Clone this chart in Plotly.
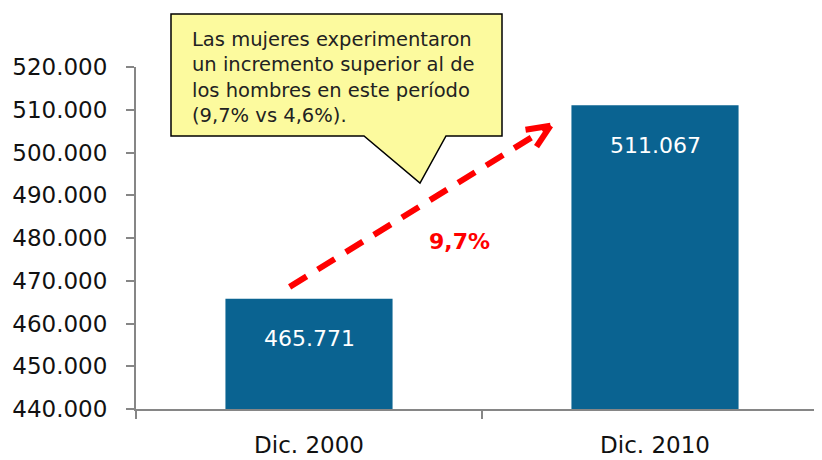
import plotly.graph_objects as go

categories = ["Dic. 2000", "Dic. 2010"]
values = [465771, 511067]
y_tick_vals = [440000, 450000, 460000, 470000, 480000, 490000, 500000, 510000, 520000]
growth_label = "9,7%"
callout_text = ("Las mujeres experimentaron<br>un incremento superior al de<br>"
                "los hombres en este período<br>(9,7% vs 4,6%).")

OFF = 8  # page body margin
W, H = 822 - OFF, 460 - OFF
L, R, T = 136 - OFF, 0, 67 - OFF
B = H - (409 - OFF)
PW, PH = W - L - R, H - T - B

def fmt(v):
    return f"{v:,}".replace(",", ".")

def px(x, y):
    # window pixel -> paper coords
    x, y = x - OFF, y - OFF
    return (x - L) / PW, (H - B - y) / PH

BAR_COLOR = "#0A6391"
AX_COLOR = "#868686"
FONT = "DejaVu Sans"

fig = go.Figure()
fig.add_trace(go.Bar(
    x=categories, y=values, width=0.483,
    marker=dict(color=BAR_COLOR, line=dict(width=0)),
    hoverinfo="skip",
))

# value labels inside bars
for c, v in zip(categories, values):
    fig.add_annotation(x=c, y=v, text=fmt(v), showarrow=False, yanchor="middle",
                       yshift=-40, font=dict(family=FONT, size=22, color="white"))

# dashed growth arrow (from bar 1 toward bar 2)
arrow_x0, arrow_y0 = -0.056, values[0] + 2800
arrow_x1, arrow_y1 = 0.698, values[1] - 4800
fig.add_shape(type="line", xref="x", yref="y", x0=arrow_x0, y0=arrow_y0,
              x1=arrow_x1, y1=arrow_y1, line=dict(color="#FF0000", width=6, dash="20px,13px"))
for dx, dy in [(-25, -4), (-14, -21)]:
    fig.add_shape(type="line", xref="x", yref="y", xsizemode="pixel", ysizemode="pixel",
                  xanchor=arrow_x1, yanchor=arrow_y1, x0=0, y0=0, x1=dx, y1=dy,
                  line=dict(color="#FF0000", width=6))

gx, gy = px(459, 241)
fig.add_annotation(xref="paper", yref="paper", x=gx, y=gy,
                   text=f"<b>{growth_label}</b>", showarrow=False,
                   font=dict(family=FONT, size=22, color="#FF0000"))

# callout
pts = [(171, 14), (502, 14), (502, 136), (446, 136), (420, 183), (364, 136), (171, 136)]
path = "M " + " L ".join(f"{px(x, y)[0]:.5f},{px(x, y)[1]:.5f}" for x, y in pts) + " Z"
fig.add_shape(type="path", xref="paper", yref="paper", path=path,
              fillcolor="#FCFA9E", line=dict(color="#000000", width=1.5), layer="above")
tx, ty = px(190, 26)
fig.add_annotation(xref="paper", yref="paper", x=tx, y=ty,
                   xanchor="left", yanchor="top", align="left", text=callout_text,
                   showarrow=False, font=dict(family=FONT, size=19.5, color="#222222"))

fig.update_layout(
    width=W, height=H, margin=dict(l=L, r=R, t=T, b=B, pad=0),
    paper_bgcolor="white", plot_bgcolor="white", showlegend=False,
    separators=",.",
    xaxis=dict(type="category", range=[-0.5, -0.5 + PW / 346], showgrid=False,
               showline=True, linecolor=AX_COLOR, linewidth=2, tickson="boundaries",
               ticks="outside", ticklen=8, tickcolor=AX_COLOR, tickwidth=2,
               ticklabelstandoff=14, automargin=False,
               tickfont=dict(family=FONT, size=23, color="#111111"), fixedrange=True),
    yaxis=dict(range=[440000, 520000], tickvals=y_tick_vals, tickformat=",.0f",
               showgrid=False, zeroline=False, showline=True, linecolor=AX_COLOR,
               linewidth=2, ticks="outside", ticklen=8, tickcolor=AX_COLOR, tickwidth=2,
               ticklabelstandoff=14, automargin=False,
               tickfont=dict(family=FONT, size=23, color="#111111"), fixedrange=True),
)

fig.write_html("out.html", config={"displayModeBar": False})
